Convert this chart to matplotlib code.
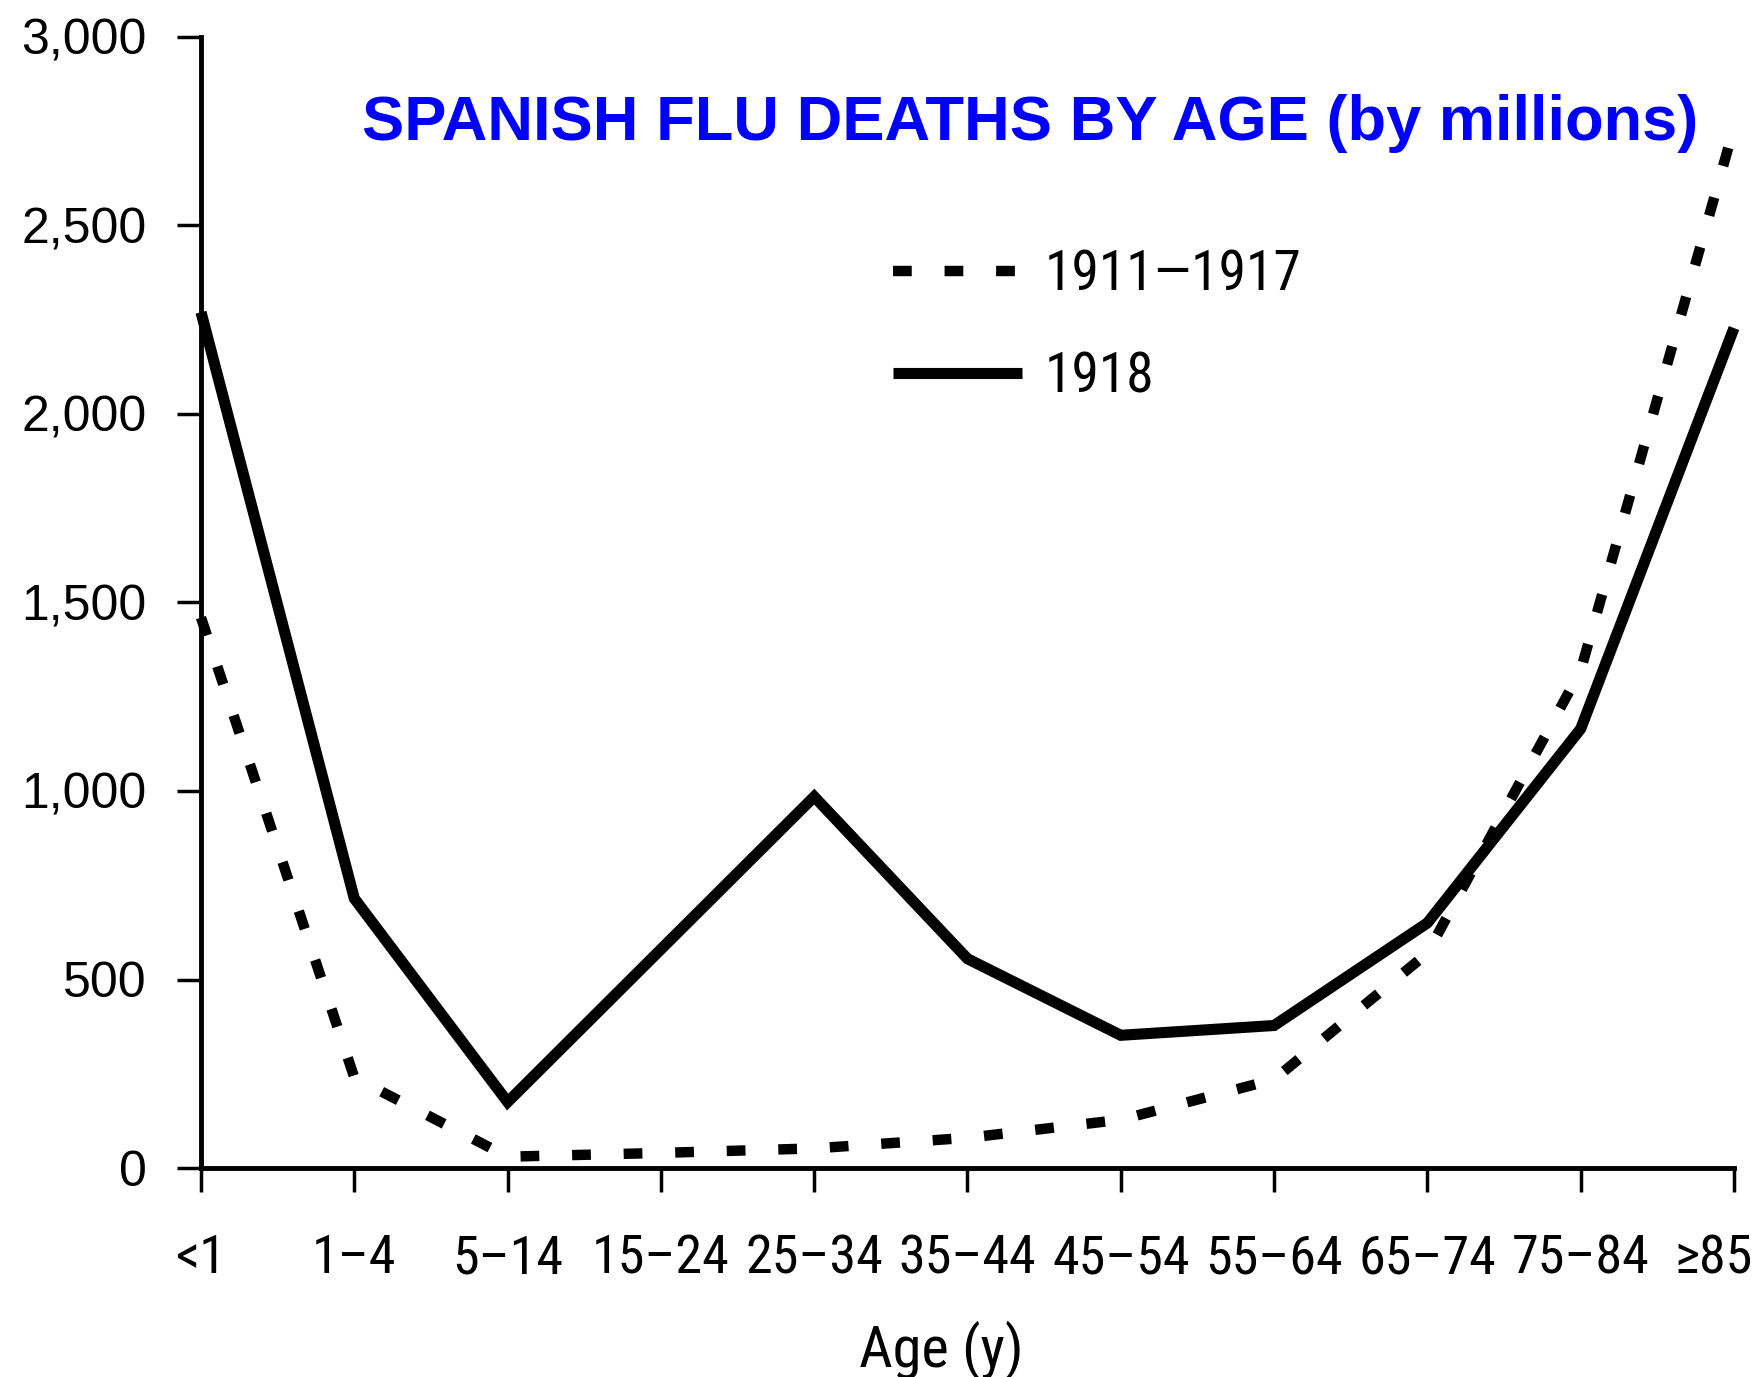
import matplotlib
matplotlib.use('Agg')
import matplotlib.pyplot as plt
from matplotlib import font_manager
from matplotlib.transforms import ScaledTranslation

# age groups and deaths
ages = ['<1', '1–4', '5–14', '15–24', '25–34', '35–44',
        '45–54', '55–64', '65–74', '75–84', '≥85']
deaths_1911_1917 = [1460, 240, 30, 40, 52, 80, 128, 235, 570, 1320, 2760]
deaths_1918 = [2270, 715, 175, 580, 985, 555, 352, 378, 650, 1165, 2228]
y_ticks = [0, 500, 1000, 1500, 2000, 2500, 3000]

names = {f.name for f in font_manager.fontManager.ttflist}
narrow = 'Liberation Sans'
for cand in ['Roboto Condensed', 'Archivo Narrow', 'PT Sans Narrow']:
    if cand in names:
        narrow = cand
        break
narrow_fam = [narrow, 'DejaVu Sans']
plt.rcParams['font.family'] = ['Liberation Sans', 'DejaVu Sans']

fig = plt.figure(figsize=(17.58, 13.77), dpi=100)
ax = fig.add_axes([201 / 1758, 1 - 1168 / 1377, 1533 / 1758, 1131 / 1377])

x = list(range(len(ages)))
ax.plot(x, deaths_1911_1917, color='black', lw=7.5, ls=(0, (1.8, 3.15)),
        dash_capstyle='butt', clip_on=False, label='1911—1917')
ax.plot(x, deaths_1918, color='black', lw=8, solid_joinstyle='miter',
        solid_capstyle='butt', clip_on=False, label='1918')

ax.set_xlim(0, len(ages) - 1)
ax.set_ylim(0, 3000)
ax.set_xticks(x)
ax.set_xticklabels(ages, family=narrow_fam, fontsize=39)
ax.set_yticks(y_ticks)
ax.set_yticklabels(['{:,}'.format(v) for v in y_ticks], fontsize=36)

for side in ['top', 'right']:
    ax.spines[side].set_visible(False)
for side in ['left', 'bottom']:
    ax.spines[side].set_linewidth(3.5)
ax.tick_params(axis='both', direction='out', length=17, width=2.5)
ax.tick_params(axis='x', pad=30)
ax.tick_params(axis='y', pad=22)

# last label sits against the right edge, as in the original
last = ax.xaxis.get_major_ticks()[-1].label1
last.set_horizontalalignment('right')
last.set_transform(last.get_transform() + ScaledTranslation(0.19, 0, fig.dpi_scale_trans))

ax.set_xlabel('Age (y)', family=narrow_fam, fontsize=42)
ax.xaxis.set_label_coords(0.483, -0.135)

leg = ax.legend(loc='upper left', bbox_to_anchor=(0.433, 0.838), frameon=False,
                handlelength=2.33, handletextpad=0.41, labelspacing=0.89,
                borderpad=0, prop={'family': narrow_fam, 'size': 40})

fig.text(1030 / 1758, 1 - 140 / 1377, 'SPANISH FLU DEATHS BY AGE (by millions)',
         color='#0000FF', fontsize=45.5, fontweight='bold', ha='center',
         va='baseline')

fig.savefig('out.png', dpi=100)
